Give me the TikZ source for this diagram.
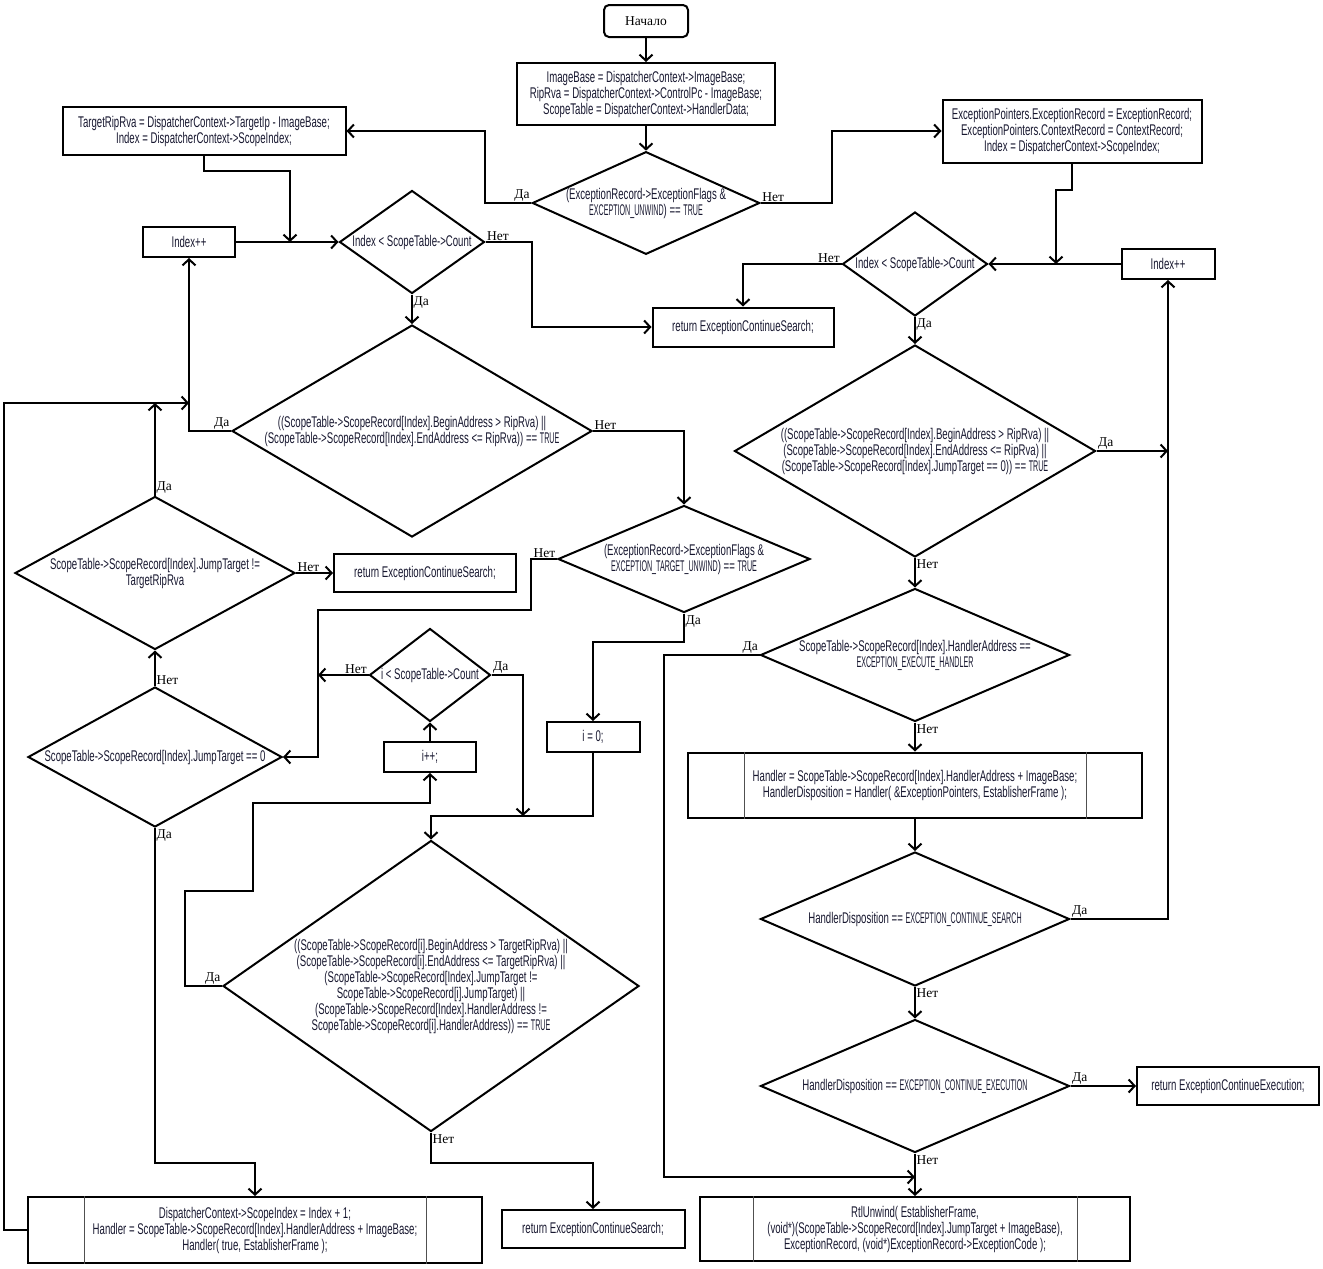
\documentclass[tikz,border=0pt]{standalone}
\usepackage{fontspec}
\setmainfont{Liberation Serif}
\newfontfamily\codefont[FakeStretch=0.62]{Liberation Sans}
\newfontfamily\capsfont[FakeStretch=0.46]{Liberation Sans}
\newcommand\uconst[1]{{\capsfont #1}}
\usepackage{tikz}
\usetikzlibrary{calc,shapes.geometric,arrows.meta}
\definecolor{flowline}{RGB}{0,0,0}
\definecolor{flowtext}{RGB}{24,24,48}
\definecolor{flowbar}{RGB}{80,80,80}
\tikzset{
  code/.style={font=\codefont\fontsize{15.5}{16}\selectfont, text=flowtext,
               align=center, inner sep=0pt},
  proc/.style 2 args={draw=flowline, line width=2pt, code,
                      minimum width=#1, minimum height=#2},
  cond/.style 2 args={diamond, draw=flowline, line width=2pt, code,
                      minimum width=#1, minimum height=#2,
                      /utils/exec={\pgfmathsetmacro\condaspect{#1/#2}},
                      shape aspect=\condaspect},
  term/.style={draw=flowline, line width=2pt, rounded corners=5pt,
               minimum width=84, minimum height=32, inner sep=0pt,
               font=\fontsize{13.5}{15}\selectfont},
  lbl/.style={font=\fontsize{13.5}{15}\selectfont, inner sep=1.5pt},
  flow/.style={draw=flowline, line width=2pt,
               -{Straight Barb[length=6pt,width=13pt]}},
}

\begin{document}
\begin{tikzpicture}[x=1pt, y=-1pt]
\useasboundingbox (0,0) rectangle (1323,1269);
% top
\node[term] (start) at (646,21) {Начало};
\node[proc={258}{62}] (init) at (646,94)
  {ImageBase = DispatcherContext->ImageBase;\\RipRva = DispatcherContext->ControlPc - ImageBase;\\ScopeTable = DispatcherContext->HandlerData;};
\node[cond={226}{102}] (d1) at (646,203)
  {(ExceptionRecord->ExceptionFlags \&\\\uconst{EXCEPTION\_UNWIND}) == \uconst{TRUE}};
\node[proc={283}{48}] (tgt) at (204,131)
  {TargetRipRva = DispatcherContext->TargetIp - ImageBase;\\Index = DispatcherContext->ScopeIndex;};
\node[proc={259}{63}] (ep) at (1072,131)
  {ExceptionPointers.ExceptionRecord = ExceptionRecord;\\ExceptionPointers.ContextRecord = ContextRecord;\\Index = DispatcherContext->ScopeIndex;};

% unwind branch (left)
\node[proc={92}{30}] (incl) at (189,242) {Index++};
\node[cond={145}{103}] (l1) at (412,242) {Index < ScopeTable->Count};
\node[proc={181}{39}] (rs1) at (743,327) {return ExceptionContinueSearch;};
\node[cond={360}{212}] (l2) at (412,431)
  {((ScopeTable->ScopeRecord[Index].BeginAddress > RipRva) ||\\(ScopeTable->ScopeRecord[Index].EndAddress <= RipRva)) == \uconst{TRUE}};
\node[cond={252}{107}] (l3) at (684,559)
  {(ExceptionRecord->ExceptionFlags \&\\\uconst{EXCEPTION\_TARGET\_UNWIND}) == \uconst{TRUE}};
\node[cond={280}{153}] (l4) at (155,573)
  {ScopeTable->ScopeRecord[Index].JumpTarget !=\\TargetRipRva};
\node[proc={182}{38}] (rs2) at (425,573) {return ExceptionContinueSearch;};
\node[cond={254}{140}] (l5) at (155,757) {ScopeTable->ScopeRecord[Index].JumpTarget == 0};
\node[cond={121}{93}] (l6) at (430,675) {i < ScopeTable->Count};
\node[proc={92}{30}] (ipp) at (430,757) {i++;};
\node[proc={93}{30}] (i0) at (593,737) {i = 0;};
\node[cond={416}{291}] (l7) at (431,986)
  {((ScopeTable->ScopeRecord[i].BeginAddress > TargetRipRva) ||\\(ScopeTable->ScopeRecord[i].EndAddress <= TargetRipRva) ||\\(ScopeTable->ScopeRecord[Index].JumpTarget !=\\ScopeTable->ScopeRecord[i].JumpTarget) ||\\(ScopeTable->ScopeRecord[Index].HandlerAddress !=\\ScopeTable->ScopeRecord[i].HandlerAddress)) == \uconst{TRUE}};
\node[proc={454}{66}] (b1) at (255,1230)
  {DispatcherContext->ScopeIndex = Index + 1;\\Handler = ScopeTable->ScopeRecord[Index].HandlerAddress + ImageBase;\\Handler( true, EstablisherFrame );};
\node[proc={183}{38}] (rs3) at (593,1229) {return ExceptionContinueSearch;};

% search branch (right)
\node[proc={93}{30}] (incr) at (1168,264) {Index++};
\node[cond={145}{104}] (r1) at (915,264) {Index < ScopeTable->Count};
\node[cond={361}{212}] (r2) at (915,451)
  {((ScopeTable->ScopeRecord[Index].BeginAddress > RipRva) ||\\(ScopeTable->ScopeRecord[Index].EndAddress <= RipRva) ||\\(ScopeTable->ScopeRecord[Index].JumpTarget == 0)) == \uconst{TRUE}};
\node[cond={309}{133}] (r3) at (915,655)
  {ScopeTable->ScopeRecord[Index].HandlerAddress ==\\\uconst{EXCEPTION\_EXECUTE\_HANDLER}};
\node[proc={454}{65}] (hnd) at (915,785)
  {Handler = ScopeTable->ScopeRecord[Index].HandlerAddress + ImageBase;\\HandlerDisposition = Handler( \&ExceptionPointers, EstablisherFrame );};
\node[cond={309}{134}] (r4) at (915,919)
  {HandlerDisposition == \uconst{EXCEPTION\_CONTINUE\_SEARCH}};
\node[cond={309}{133}] (r5) at (915,1086)
  {HandlerDisposition == \uconst{EXCEPTION\_CONTINUE\_EXECUTION}};
\node[proc={182}{38}] (rce) at (1228,1086) {return ExceptionContinueExecution;};
\node[proc={430}{64}] (ru) at (915,1229)
  {RtlUnwind( EstablisherFrame,\\(void*)(ScopeTable->ScopeRecord[Index].JumpTarget + ImageBase),\\ExceptionRecord, (void*)ExceptionRecord->ExceptionCode );};

% side bars of the subprocess boxes
\foreach \n/\d in {b1/57, hnd/57, ru/54}{
  \draw[flowbar, line width=1pt] ([xshift=\d pt]\n.north west) -- ([xshift=\d pt]\n.south west);
  \draw[flowbar, line width=1pt] ([xshift=-\d pt]\n.north east) -- ([xshift=-\d pt]\n.south east);
}

\coordinate (j1) at (290,242);
\coordinate (j2) at (318,610);
\coordinate (j3) at (4,403);
\coordinate (j5) at (523,816);
\coordinate (j7) at (1056,264);
\coordinate (j8) at (915,1177);

\draw[flow] (start) -- (init);
\draw[flow] (init) -- (d1);
\draw[flow] (d1.west) -- ++(-46,0) |- (tgt.east);
\draw[flow] (d1.east) -- ++(71,0) |- (ep.west);
\draw[flow] (tgt.south) -- ++(0,15) -| (j1);
\draw[flow] (incl) -- (l1);
\draw[flow] (l1.east) -- ++(46,0) |- (rs1.west);
\draw[flow] (l1) -- (l2);
\draw[flow] (l2.west) -| (incl.south);
\draw[flow] (l2.east) -| (l3.north);
\draw[flow] (l3.west) -- ++(-26,0) |- (j2) |- (l5.east);
\draw[flow] (l4) -- (rs2);
\draw[flow] (l4.north) -- (l4.north |- j3);
\draw[flow] (b1.west) -| (j3) -- (j3 -| incl.south);
\draw[flow] (l5) -- (l4);
\draw[flow] (l5.south) -- ++(0,335) -| (b1.north);
\draw[flow] (l6.west) -- (l6.west -| j2);
\draw[flow] (l6.east) -| (j5);
\draw[flow] (ipp) -- (l6);
\draw[flow] (l7.west) -- ++(-37,0) |- ++(68,-95) -- ++(0,-88) -| (ipp.south);
\draw[flow] (l3.south) -- ++(0,28) -| (i0.north);
\draw[flow] (i0.south) |- (j5) -| (l7.north);
\draw[flow] (l7.south) -- ++(0,30) -| (rs3.north);

\draw[flow] (ep.south) -- ++(0,26) -| (j7);
\draw[flow] (incr) -- (r1);
\draw[flow] (r1.west) -| (rs1.north);
\draw[flow] (r1) -- (r2);
\draw[flow] (r2.east) -- (r2.east -| incr.south);
\draw[flow] (r2) -- (r3);
\draw[flow] (r3.west) -- ++(-96,0) |- (j8);
\draw[flow] (r3) -- (hnd);
\draw[flow] (hnd) -- (r4);
\draw[flow] (r4.east) -| (incr.south);
\draw[flow] (r4) -- (r5);
\draw[flow] (r5) -- (rce);
\draw[flow] (r5) -- (ru);

% branch labels
\foreach \n/\a/\anc/\t in {d1/west/south east/Да, d1/east/south west/Нет,
  l1/east/south west/Нет, l1/south/north west/Да,
  l2/west/south east/Да, l2/east/south west/Нет,
  l3/west/south east/Нет, l3/south/north west/Да,
  l4/north/south west/Да, l4/east/south west/Нет,
  l5/north/south west/Нет, l5/south/north west/Да,
  l6/west/south east/Нет, l6/east/south west/Да,
  l7/west/south east/Да, l7/south/north west/Нет,
  r1/west/south east/Нет, r1/south/north west/Да,
  r2/east/south west/Да, r2/south/north west/Нет,
  r3/west/south east/Да, r3/south/north west/Нет,
  r4/east/south west/Да, r4/south/north west/Нет,
  r5/east/south west/Да, r5/south/north west/Нет}
  \node[lbl, anchor=\anc] (\n-\a) at (\n.\a) {\t};
\end{tikzpicture}
\end{document}
